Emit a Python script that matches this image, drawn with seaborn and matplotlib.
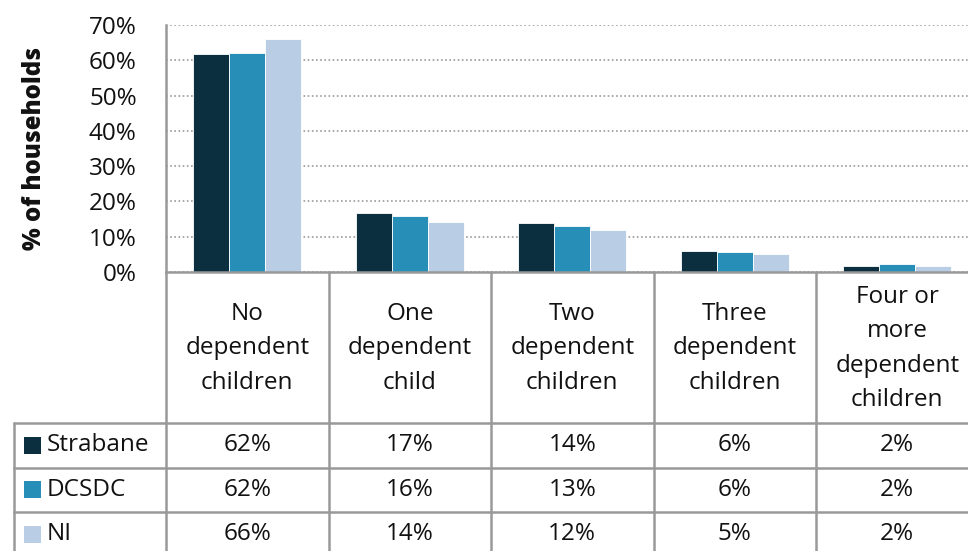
import matplotlib
matplotlib.use("Agg")
import matplotlib.pyplot as plt
from matplotlib.patches import Rectangle
from matplotlib.lines import Line2D
import matplotlib.transforms as mtransforms
import seaborn as sns
import pandas as pd

categories = ["No\ndependent\nchildren", "One\ndependent\nchild", "Two\ndependent\nchildren",
              "Three\ndependent\nchildren", "Four or\nmore\ndependent\nchildren"]
series = ["Strabane", "DCSDC", "NI"]
strabane = [61.9, 16.8, 13.8, 5.9, 1.8]
dcsdc = [62.2, 16.0, 13.0, 5.6, 2.2]
ni = [65.9, 14.1, 12.0, 5.0, 1.8]
yticks = [0, 10, 20, 30, 40, 50, 60, 70]
colors = ["#0b2f3e", "#278eb8", "#b9cde5"]

values = {"Strabane": strabane, "DCSDC": dcsdc, "NI": ni}
df = pd.DataFrame([{"category": c, "series": s, "value": v}
                   for s in series for c, v in zip(categories, values[s])])

sns.set_theme(style="white")
plt.rcParams["font.family"] = ["Open Sans", "DejaVu Sans"]
FS = 17.5
TXT = "#111111"
LINE = "#999999"

W, H = 968, 551
fig = plt.figure(figsize=(W / 100, H / 100), dpi=100)

def fx(px):
    return px / W

def fy(py):
    return 1 - py / H

ax_left, ax_right, ax_top, ax_bottom = 166, 978.5, 25, 272
ax = fig.add_axes([fx(ax_left), fy(ax_bottom), fx(ax_right - ax_left), (ax_bottom - ax_top) / H])

sns.barplot(data=df, x="category", y="value", hue="series", hue_order=series,
            order=categories, palette=colors, saturation=1, width=0.665,
            errorbar=None, edgecolor="white", linewidth=0.6, ax=ax)

ax.set_xlim(-0.5, len(categories) - 0.5)
ax.set_ylim(0, 70)
ax.set_yticks(yticks)
ax.set_yticklabels([f"{t}%" for t in yticks], fontsize=FS, color=TXT)
ax.set_xticks([])
ax.set_xlabel("")
ax.set_ylabel("")
ax.tick_params(axis="y", length=0, pad=21)
ax.yaxis.grid(True, linestyle=(0, (1, 1.5)), color="#9a9a9a", linewidth=1.2)
ax.set_axisbelow(True)
for s in ["top", "right"]:
    ax.spines[s].set_visible(False)
for s in ["left", "bottom"]:
    ax.spines[s].set_color(LINE)
    ax.spines[s].set_linewidth(1.8)
if ax.get_legend():
    ax.get_legend().remove()

fig.text(fx(35), fy(148), "% of households", rotation=90, ha="center", va="center",
         fontsize=17.3, fontweight="heavy", color=TXT)

# data table
blend = mtransforms.blended_transform_factory(ax.transData, fig.transFigure)
header_top, header_bottom = 272, 423
row_h = 44.5
rows_y = [header_bottom + i * row_h for i in range(4)]
table_left = 14

for b in range(len(categories) + 1):
    fig.add_artist(Line2D([b - 0.5, b - 0.5], [fy(header_top), fy(H + 10)], transform=blend,
                          color=LINE, linewidth=1.8, clip_on=False))
fig.add_artist(Line2D([fx(table_left), fx(table_left)], [fy(header_bottom), fy(H + 10)],
                      transform=fig.transFigure, color=LINE, linewidth=1.8))
for yy in rows_y[:3]:
    fig.add_artist(Line2D([fx(table_left), 1.0], [fy(yy), fy(yy)],
                          transform=fig.transFigure, color=LINE, linewidth=1.8))

for i, c in enumerate(categories):
    fig.text(i, fy((header_top + header_bottom) / 2 + 1), c, transform=blend, ha="center",
             va="center", multialignment="center", fontsize=FS, linespacing=1.58, color=TXT)

for r, s in enumerate(series):
    yc = rows_y[r] + row_h / 2
    fig.add_artist(Rectangle((fx(24), fy(yc + 8.5)), fx(17), 17 / H, transform=fig.transFigure,
                             facecolor=colors[r], edgecolor="none"))
    fig.text(fx(47), fy(yc), s, ha="left", va="center", fontsize=FS, color=TXT)
    for i, v in enumerate(values[s]):
        fig.text(i, fy(yc), f"{round(v):.0f}%", transform=blend, ha="center", va="center",
                 fontsize=FS, color=TXT)

fig.savefig("out.png", dpi=100)
